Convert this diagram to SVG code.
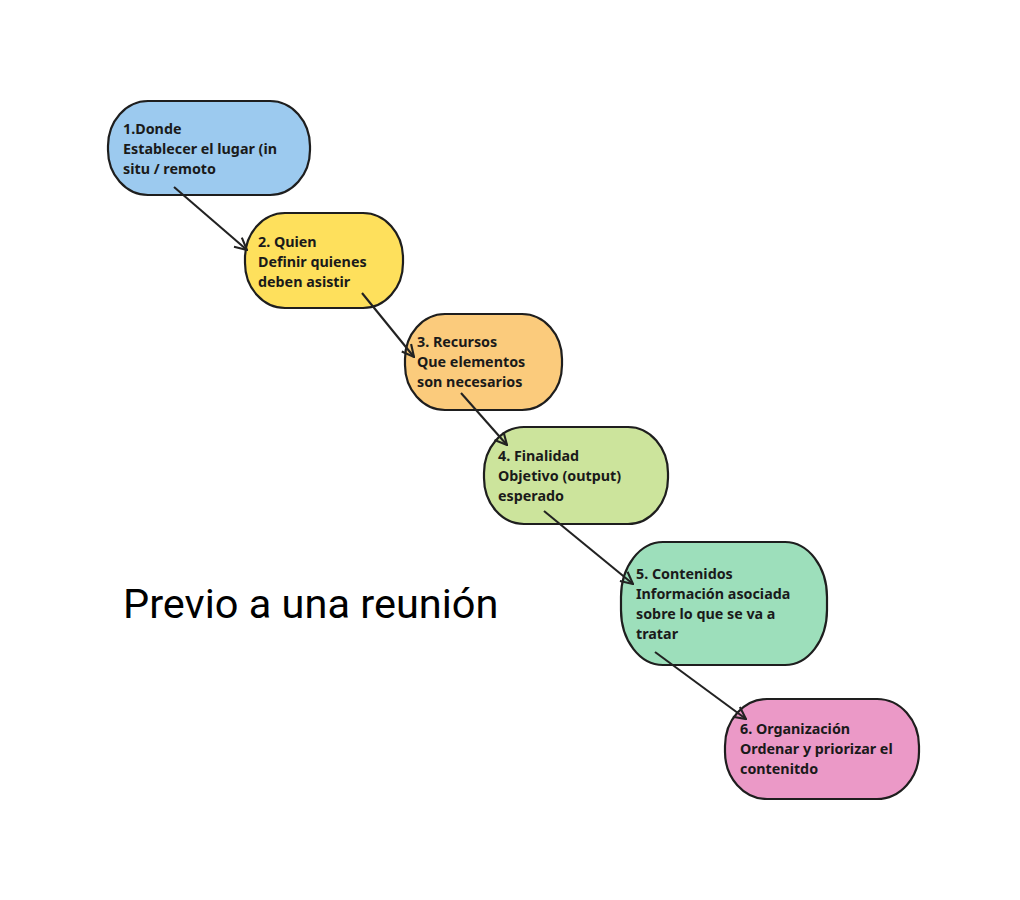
<svg xmlns="http://www.w3.org/2000/svg" width="1020" height="900" viewBox="0 0 1020 900">
<defs>
<style>
.box{stroke:#1e1e1e;stroke-width:2.2}
.t{font-family:"Noto Sans",sans-serif;font-weight:bold;font-size:14.3px;fill:#1a1a1a}
.c{stroke:#222;stroke-width:2.1;fill:none}
</style>
<marker id="ah" viewBox="0 0 14 14" refX="13" refY="7" markerWidth="14" markerHeight="14" markerUnits="userSpaceOnUse" orient="auto">
<path d="M1,1 L13,7 L1,13" fill="none" stroke="#222" stroke-width="2.1"/>
</marker>
</defs>
<rect width="1020" height="900" fill="#fff"/>
<g id="n1">
<rect class="box" x="108" y="101" width="202" height="94" rx="40" ry="45" fill="#9CCAEF"/>
<text class="t" x="123" y="134">1.Donde</text>
<text class="t" x="123" y="154">Establecer el lugar (in</text>
<text class="t" x="123" y="174">situ / remoto</text>
</g>
<g id="n2">
<rect class="box" x="245" y="213" width="158" height="95" rx="40" ry="45" fill="#FEE05C"/>
<text class="t" x="258" y="247">2. Quien</text>
<text class="t" x="258" y="267">Definir quienes</text>
<text class="t" x="258" y="287">deben asistir</text>
</g>
<g id="n3">
<rect class="box" x="405" y="314" width="157" height="96" rx="40" ry="45" fill="#FBCB7C"/>
<text class="t" x="417" y="347">3. Recursos</text>
<text class="t" x="417" y="367">Que elementos</text>
<text class="t" x="417" y="387">son necesarios</text>
</g>
<g id="n4">
<rect class="box" x="484" y="427" width="184" height="97" rx="40" ry="46" fill="#CCE49C"/>
<text class="t" x="498" y="461">4. Finalidad</text>
<text class="t" x="498" y="481">Objetivo (output)</text>
<text class="t" x="498" y="501">esperado</text>
</g>
<g id="n5">
<rect class="box" x="621" y="542" width="206" height="123" rx="42" ry="55" fill="#9DDFBB"/>
<text class="t" x="636" y="579">5. Contenidos</text>
<text class="t" x="636" y="599">Información asociada</text>
<text class="t" x="636" y="619">sobre lo que se va a</text>
<text class="t" x="636" y="639">tratar</text>
</g>
<g id="n6">
<rect class="box" x="725" y="699" width="194" height="100" rx="42" ry="47" fill="#EB99C7"/>
<text class="t" x="740" y="734">6. Organización</text>
<text class="t" x="740" y="754">Ordenar y priorizar el</text>
<text class="t" x="740" y="774">contenitdo</text>
</g>
<g id="connectors">
<line class="c" x1="174" y1="187" x2="247" y2="250" marker-end="url(#ah)"/>
<line class="c" x1="362" y1="293" x2="414" y2="357" marker-end="url(#ah)"/>
<line class="c" x1="461" y1="393" x2="507" y2="445" marker-end="url(#ah)"/>
<line class="c" x1="544" y1="511" x2="633" y2="584" marker-end="url(#ah)"/>
<line class="c" x1="655" y1="652" x2="746" y2="719" marker-end="url(#ah)"/>
</g>
<text x="123" y="618" font-family="Roboto,sans-serif" font-size="41.5" fill="#000">Previo a una reunión</text>
</svg>
